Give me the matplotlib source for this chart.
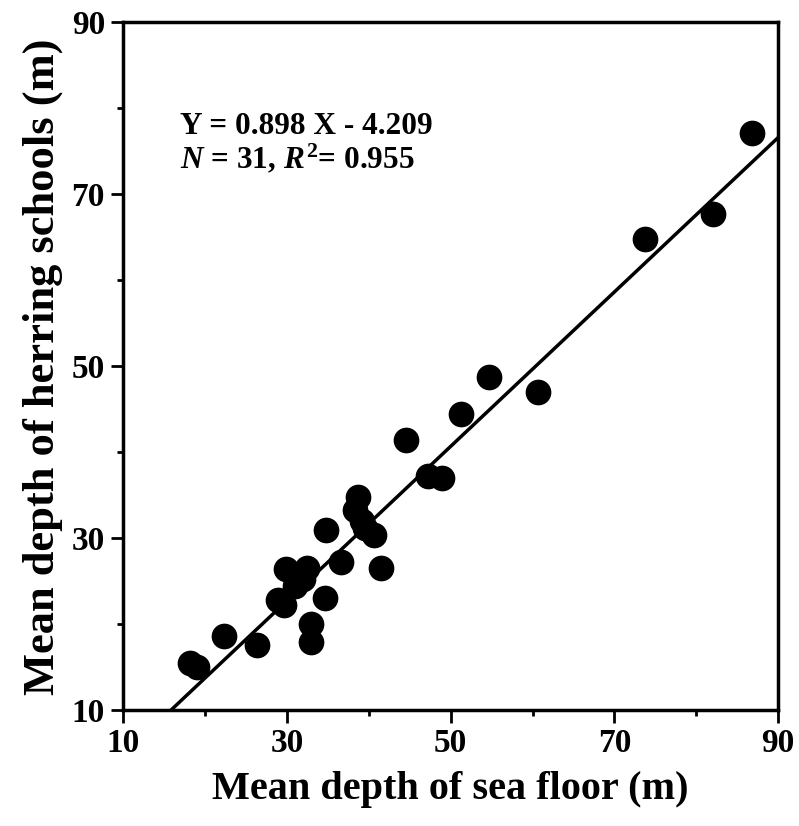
import numpy as np
import matplotlib
matplotlib.use("Agg")
import matplotlib.pyplot as plt
from matplotlib.ticker import MultipleLocator

# depth of sea floor (x) and herring schools (y)
floor_depth = [86.8, 82.0, 73.7, 54.7, 60.7, 51.3, 44.6, 47.2, 48.9, 38.7,
               38.3, 39.6, 40.6, 34.8, 36.6, 41.5, 29.9, 32.5, 31.0, 32.0,
               28.9, 29.7, 34.6, 33.0, 33.0, 22.3, 26.4, 18.2, 19.0, 39.2,
               31.5]
school_depth = [77.1, 67.7, 64.8, 48.8, 47.0, 44.5, 41.4, 37.3, 37.0, 34.8,
                33.3, 31.2, 30.4, 31.0, 27.3, 26.6, 26.4, 26.5, 24.5, 25.3,
                22.8, 22.2, 23.1, 20.0, 18.0, 18.7, 17.6, 15.5, 15.0, 32.0,
                25.8]
slope = 0.898
intercept = -4.209
ticks = [10, 30, 50, 70, 90]

plt.rcParams['font.family'] = ['Liberation Serif', 'DejaVu Serif']
plt.rcParams['mathtext.fontset'] = 'custom'
plt.rcParams['mathtext.rm'] = 'Liberation Serif:bold'
plt.rcParams['mathtext.it'] = 'Liberation Serif:bold:italic'

fig = plt.figure(figsize=(7.99, 8.26), dpi=100)
ax = fig.add_axes([0.154, 0.140, 0.820, 0.833])

ax.plot(floor_depth, school_depth, 'o', color='black', ms=17.5, mec='black')

# regression line, clipped to the plot box
x0 = (10 - intercept) / slope
xs = np.array([x0, 90])
ax.plot(xs, slope * xs + intercept, color='black', lw=2.5)

ax.set_xlim(10, 90)
ax.set_ylim(10, 90)
ax.set_xticks(ticks)
ax.set_yticks(ticks)
ax.xaxis.set_minor_locator(MultipleLocator(10))
ax.yaxis.set_minor_locator(MultipleLocator(10))
ax.tick_params(which='major', direction='out', length=9, width=2,
               labelsize=24, pad=4)
ax.tick_params(which='minor', direction='out', length=4, width=2)
for lab in ax.get_xticklabels() + ax.get_yticklabels():
    lab.set_fontweight('bold')
for s in ax.spines.values():
    s.set_linewidth(2.5)

ax.set_xlabel("Mean depth of sea floor (m)", fontsize=29, fontweight='bold',
              labelpad=8)
ax.set_ylabel("Mean depth of herring schools (m)", fontsize=32,
              fontweight='bold', labelpad=6)

ax.text(0.087, 0.870, "Y = 0.898 X - 4.209", transform=ax.transAxes,
        fontsize=22.5, fontweight='bold', va='top')
ax.text(0.087, 0.826, "$N$ = 31, $R^2$= 0.955", transform=ax.transAxes,
        fontsize=22.5, fontweight='bold', va='top')

fig.savefig("out.png", dpi=100)
